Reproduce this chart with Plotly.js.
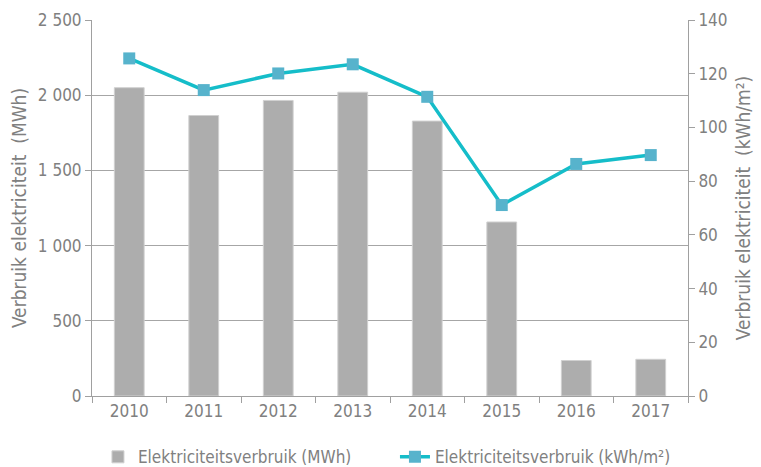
<!DOCTYPE html>
<html>
<head>
<meta charset="utf-8">
<script src="https://cdn.plot.ly/plotly-3.0.1.min.js"></script>
<style>html,body{margin:0;padding:0;background:#fff;}#chart{width:761px;height:467px;}</style>
</head>
<body>
<div id="chart"></div>
<script>
const years = ['2010','2011','2012','2013','2014','2015','2016','2017'];
const mwh = [2050, 1865, 1965, 2020, 1828, 1157, 236, 244];
const kwhm2 = [125.7, 113.9, 120.1, 123.5, 111.4, 71.1, 86.4, 89.7];
const leftTickVals = [0, 500, 1000, 1500, 2000, 2500];
const leftTickText = ['0', '500', '1 000', '1 500', '2 000', '2 500'];
const rightTickVals = [0, 20, 40, 60, 80, 100, 120, 140];
const seriesNames = ['Elektriciteitsverbruik (MWh)', 'Elektriciteitsverbruik (kWh/m²)'];
const axisTitles = ['Verbruik elektriciteit  (MWh)', 'Verbruik elektriciteit  (kWh/m²)'];

const gray = '#808080';
const fam = 'DejaVu Sans Condensed, DejaVu Sans, sans-serif';
const tickFont = {family: fam, size: 17, color: gray};
const titleFont = {family: fam, size: 19, color: gray};

const traces = [
  {
    type: 'bar', x: years, y: mwh, name: seriesNames[0], yaxis: 'y',
    marker: {color: '#adadad', line: {color: '#d0d0d0', width: 1}},
    width: 0.4
  },
  {
    type: 'scatter', mode: 'lines+markers', x: years, y: kwhm2, name: seriesNames[1], yaxis: 'y2',
    line: {color: '#15bdc9', width: 3.5},
    marker: {symbol: 'square', size: 12, color: '#57b3cc'}
  }
];

const layout = {
  width: 761, height: 467,
  margin: {l: 92, r: 73, t: 20, b: 71, autoexpand: false},
  paper_bgcolor: '#fff', plot_bgcolor: '#fff',
  showlegend: true,
  legend: {
    orientation: 'h', x: 0.010, xanchor: 'left', y: -0.163, yanchor: 'middle',
    font: {family: 'Liberation Sans Narrow, DejaVu Sans Condensed, sans-serif', size: 17, color: gray},
    entrywidth: 252, entrywidthmode: 'pixels'
  },
  xaxis: {
    type: 'category', tickson: 'boundaries', ticks: 'outside', ticklen: 6, tickcolor: '#a0a0a0',
    showline: true, linecolor: '#a0a0a0', linewidth: 1, showgrid: false, automargin: false,
    tickfont: tickFont, range: [-0.5, 7.5]
  },
  yaxis: {
    range: [0, 2500], tickvals: leftTickVals, ticktext: leftTickText,
    ticks: 'outside', ticklen: 6, tickcolor: '#a0a0a0', automargin: false,
    showline: true, linecolor: '#a0a0a0', linewidth: 1,
    showgrid: true, gridcolor: '#a6a6a6', gridwidth: 1, zeroline: false,
    tickfont: tickFont,
    title: {text: axisTitles[0], font: titleFont, standoff: 6}
  },
  yaxis2: {
    overlaying: 'y', side: 'right', range: [0, 140], tickvals: rightTickVals,
    ticks: 'outside', ticklen: 6, tickcolor: '#a0a0a0', automargin: false,
    showline: true, linecolor: '#a0a0a0', linewidth: 1,
    showgrid: false, zeroline: false,
    tickfont: tickFont,
    title: {text: axisTitles[1], font: titleFont, standoff: 10}
  }
};

Plotly.newPlot('chart', traces, layout, {displayModeBar: false, staticPlot: true});
</script>
</body>
</html>
